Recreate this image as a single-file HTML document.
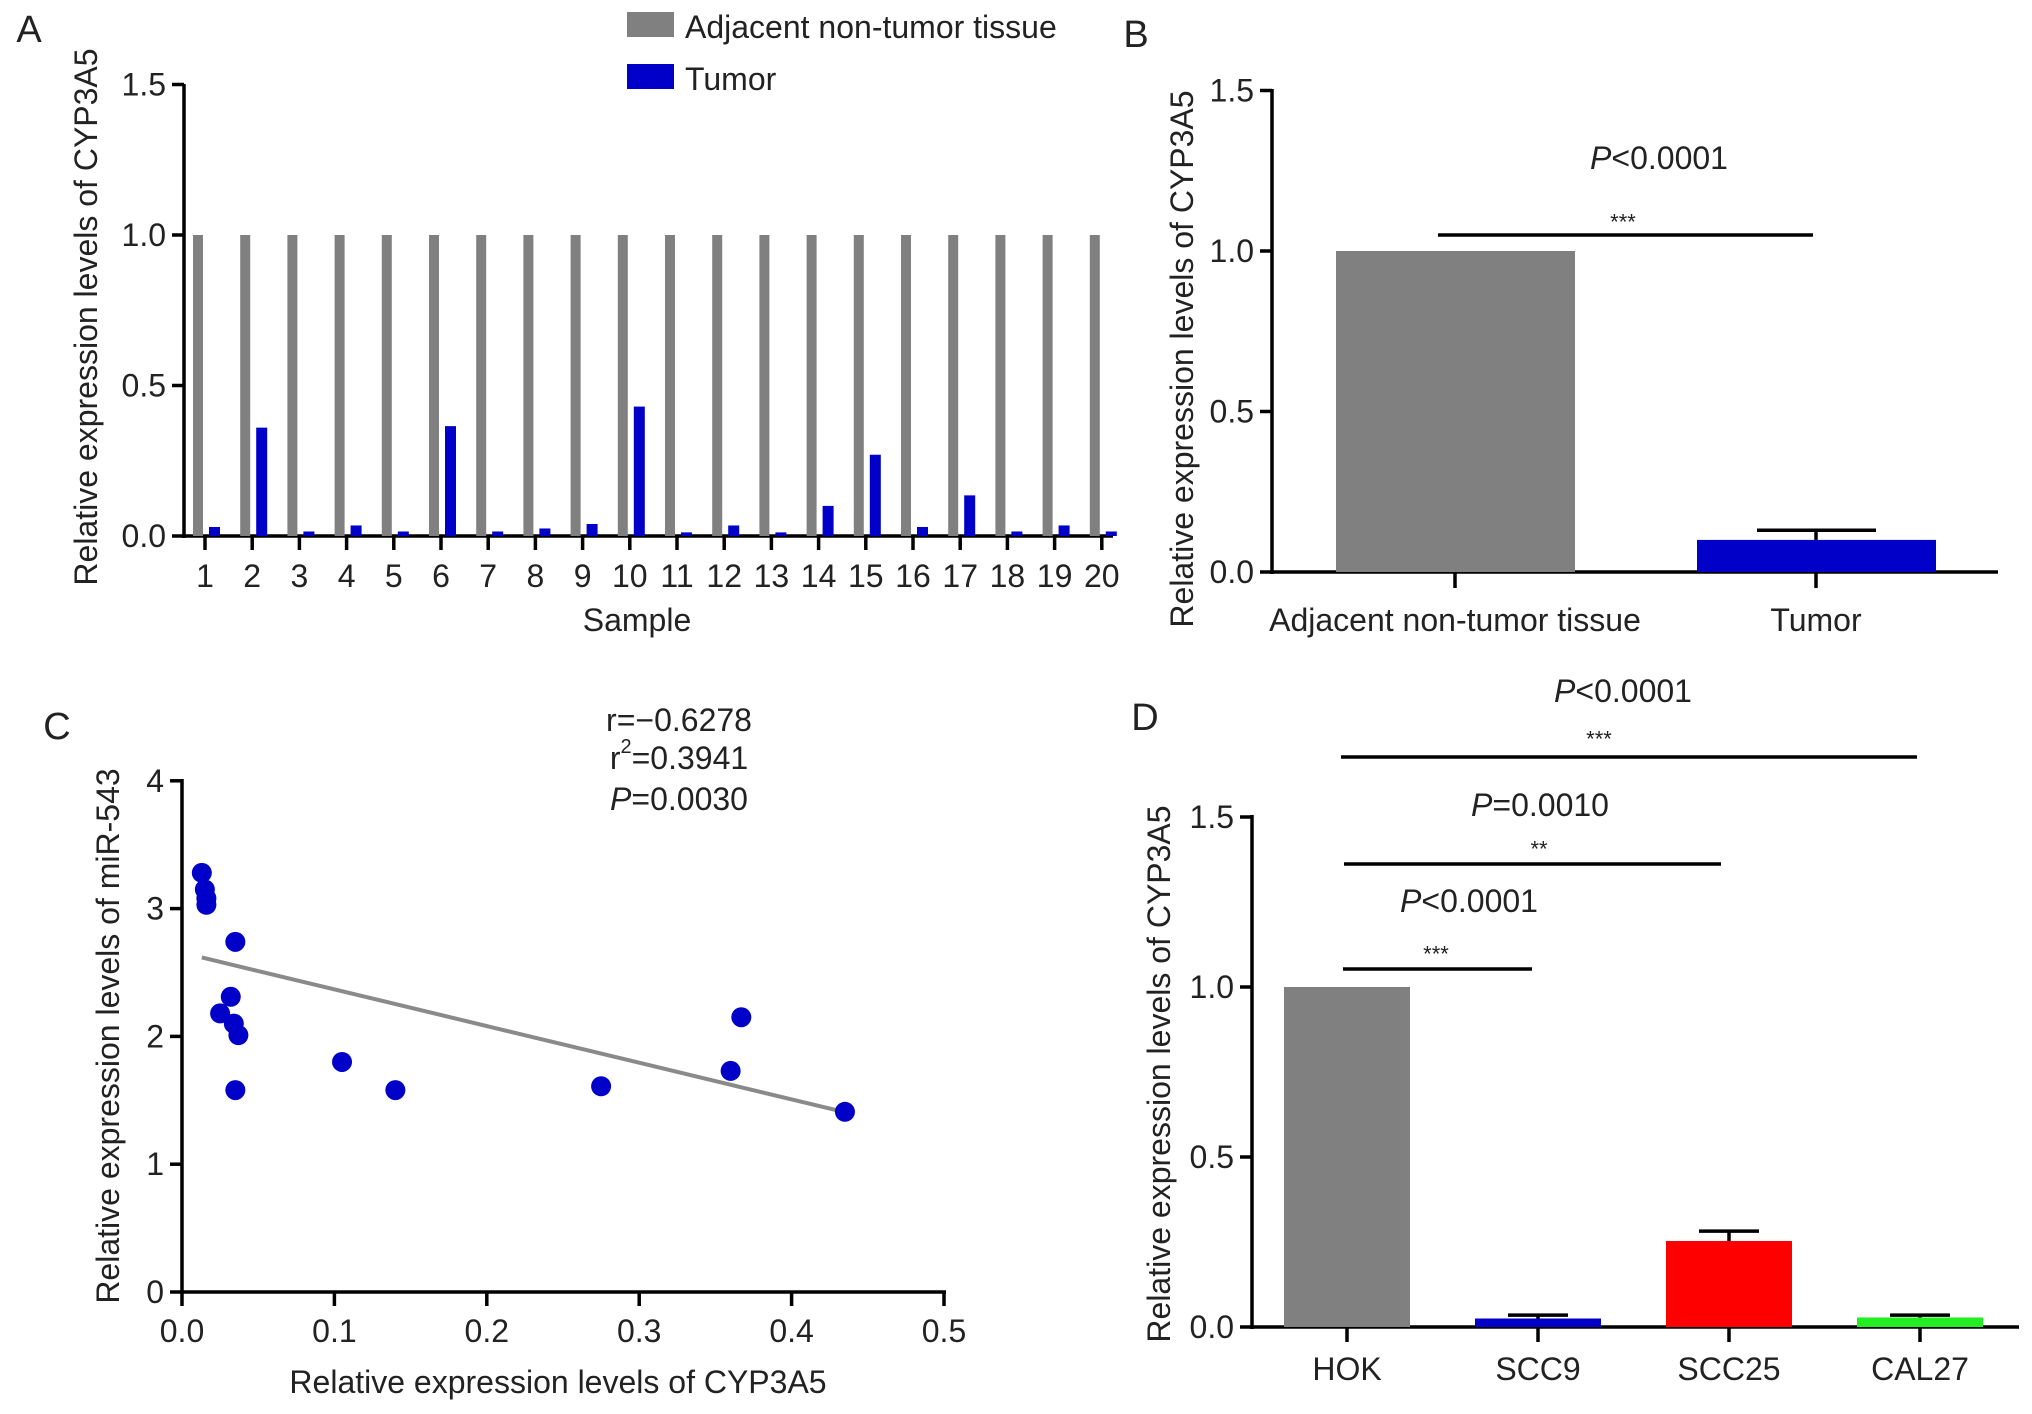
<!DOCTYPE html>
<html><head><meta charset="utf-8"><style>
body{margin:0;background:#fff}
svg{display:block;font-family:"Liberation Sans",Arial,sans-serif}
</style></head><body>
<svg id="fig" width="2032" height="1414" viewBox="0 0 2032 1414"></svg>
<script>
// Panel A data
const samples = ["1","2","3","4","5","6","7","8","9","10","11","12","13","14","15","16","17","18","19","20"];
const adjValues = [1,1,1,1,1,1,1,1,1,1,1,1,1,1,1,1,1,1,1,1];
const tumorValues = [0.03,0.36,0.015,0.035,0.015,0.365,0.015,0.025,0.04,0.43,0.012,0.035,0.012,0.1,0.27,0.03,0.135,0.015,0.035,0.015];
const ticksA = [0,0.5,1.0,1.5];
// Panel B data
const groupsB = ["Adjacent non-tumor tissue","Tumor"];
const meansB = [1.0,0.1];
const errB = [0,0.13];
// Panel C data
const scatterX = [0.013,0.015,0.016,0.016,0.035,0.032,0.025,0.034,0.037,0.035,0.105,0.14,0.275,0.36,0.367,0.435];
const scatterY = [3.28,3.15,3.08,3.03,2.74,2.31,2.18,2.1,2.01,1.58,1.8,1.58,1.61,1.73,2.15,1.41];
const fitIntercept = 2.655, fitSlope = -2.87;
const fitRange = [0.013,0.435];
const xTicksC = [0,0.1,0.2,0.3,0.4,0.5];
const yTicksC = [0,1,2,3,4];
// Panel D data
const groupsD = ["HOK","SCC9","SCC25","CAL27"];
const meansD = [1.0,0.025,0.253,0.028];
const errD = [0,0.035,0.282,0.035];
const colorsD = ["#808080","#0000c8","#ff0000","#22ee22"];

const FS = 32;
const svg = document.getElementById('fig');
const NS = "http://www.w3.org/2000/svg";
function mk(tag, attrs, parent){const e=document.createElementNS(NS,tag);for(const k in attrs)e.setAttribute(k,attrs[k]);(parent||svg).appendChild(e);return e;}
function txt(s,x,y,size,anchor,parent){const t=mk('text',{x:x,y:y,'font-size':size,'text-anchor':anchor||'middle','dominant-baseline':'central',fill:'#222'},parent);t.textContent=s;return t;}
function line(x1,y1,x2,y2,w,parent){return mk('line',{x1:x1,y1:y1,x2:x2,y2:y2,stroke:'#000','stroke-width':w||3.5},parent);}
function fmt(v,d){return v.toFixed(d);}

// ---------- Panel A ----------
const gA = mk('g',{});


const yA = v => 536 - v*301;
const xA = i => 205 + i*47.2;
let t = txt('A',29,30,38,'middle',gA);


line(184,84,184,538,3.5,gA);
line(182,536,1113,536,3.5,gA);
ticksA.forEach(v=>{line(172,yA(v),184,yA(v),3.5,gA);const l=txt(fmt(v,1),166,yA(v),FS,'end',gA);

});
samples.forEach((s,i)=>{
  const x=xA(i);
  const g=mk('rect',{x:x-12,y:yA(adjValues[i]),width:10,height:yA(0)-yA(adjValues[i]),fill:'#808080'},gA);
  
  
  const b=mk('rect',{x:x+4,y:yA(tumorValues[i]),width:11,height:yA(0)-yA(tumorValues[i]),fill:'#0000c8'},gA);
  
  
  line(x,536,x,550,3.5,gA);
  const l=txt(s,x,576,FS,'middle',gA);
  
  
});
t=txt('Sample',637,620,FS,'middle',gA);


t=txt('Relative expression levels of CYP3A5',0,0,FS,'middle',gA);
t.setAttribute('transform','translate(86,317) rotate(-90)');


let r=mk('rect',{x:627,y:12,width:47,height:25,fill:'#808080'},gA);


t=txt('Adjacent non-tumor tissue',685,27,FS,'start',gA);


r=mk('rect',{x:627,y:64,width:47,height:25,fill:'#0000c8'},gA);


t=txt('Tumor',685,79,FS,'start',gA);



// ---------- Panel B ----------
const gB = mk('g',{});


const yB = v => 572 - v*321;
const xB = [1455,1816];
const colB = ['#808080','#0000c8'];
t=txt('B',1136,35,38,'middle',gB);


line(1272,89,1272,574,3.5,gB);
line(1270,572,1998,572,3.5,gB);
ticksA.forEach(v=>{line(1260,yB(v),1272,yB(v),3.5,gB);const l=txt(fmt(v,1),1254,yB(v),FS,'end',gB);

});
groupsB.forEach((s,i)=>{
  const x=xB[i];
  const b=mk('rect',{x:x-119,y:yB(meansB[i]),width:239,height:yB(0)-yB(meansB[i]),fill:colB[i]},gB);
  
  
  if(errB[i]>0){line(x,yB(meansB[i]),x,yB(errB[i]),3.5,gB);line(x-59,yB(errB[i]),x+60,yB(errB[i]),3.5,gB);}
  line(x,572,x,588,3.5,gB);
  const l=txt(s,x,620,FS,'middle',gB);
  
  
});
line(1438,235,1813,235,3.5,gB);
t=txt('***',1623,222,22,'middle',gB);


t=mk('text',{x:1659,y:158,'font-size':FS,'text-anchor':'middle','dominant-baseline':'central',fill:'#222'},gB);
t.innerHTML='<tspan font-style="italic">P</tspan>&lt;0.0001';


t=txt('Relative expression levels of CYP3A5',0,0,FS,'middle',gB);
t.setAttribute('transform','translate(1182,359) rotate(-90)');



// ---------- Panel C ----------
const gC = mk('g',{});


const xC = v => 182 + v*1524;
const yC = v => 1292 - v*127.8;
t=txt('C',57,727,38,'middle',gC);


line(182,779,182,1294,3.5,gC);
line(180,1292,946,1292,3.5,gC);
yTicksC.forEach(v=>{line(170,yC(v),182,yC(v),3.5,gC);const l=txt(String(v),164,yC(v),FS,'end',gC);

});
xTicksC.forEach(v=>{line(xC(v),1292,xC(v),1306,3.5,gC);const l=txt(fmt(v,1),xC(v),1331,FS,'middle',gC);

});
const fl=mk('line',{x1:xC(fitRange[0]),y1:yC(fitIntercept+fitSlope*fitRange[0]),x2:xC(fitRange[1]),y2:yC(fitIntercept+fitSlope*fitRange[1]),stroke:'#8a8a8a','stroke-width':4},gC);


scatterX.forEach((xv,i)=>{
  const c=mk('circle',{cx:xC(xv),cy:yC(scatterY[i]),r:10,fill:'#0000c8'},gC);
  
  
});
t=txt('r=\u22120.6278',679,720,FS,'middle',gC);


t=mk('text',{x:679,y:758,'font-size':FS,'text-anchor':'middle','dominant-baseline':'central',fill:'#222'},gC);
t.innerHTML='r<tspan font-size="20" dy="-11">2</tspan><tspan dy="11">=0.3941</tspan>';


t=mk('text',{x:679,y:799,'font-size':FS,'text-anchor':'middle','dominant-baseline':'central',fill:'#222'},gC);
t.innerHTML='<tspan font-style="italic">P</tspan>=0.0030';


t=txt('Relative expression levels of CYP3A5',558,1382,FS,'middle',gC);


t=txt('Relative expression levels of miR-543',0,0,FS,'middle',gC);
t.setAttribute('transform','translate(108,1036) rotate(-90)');



// ---------- Panel D ----------
const gD = mk('g',{});


const yD = v => 1327 - v*340;
const xD = [1347,1538,1729,1920];
t=txt('D',1145,718,38,'middle',gD);


line(1252,815,1252,1329,3.5,gD);
line(1250,1327,2019,1327,3.5,gD);
ticksA.forEach(v=>{line(1240,yD(v),1252,yD(v),3.5,gD);const l=txt(fmt(v,1),1234,yD(v),FS,'end',gD);

});
groupsD.forEach((s,i)=>{
  const x=xD[i];
  const b=mk('rect',{x:x-63,y:yD(meansD[i]),width:126,height:yD(0)-yD(meansD[i]),fill:colorsD[i]},gD);
  
  
  if(errD[i]>0){line(x,yD(meansD[i]),x,yD(errD[i]),3.5,gD);line(x-30,yD(errD[i]),x+30,yD(errD[i]),3.5,gD);}
  line(x,1327,x,1342,3.5,gD);
  const l=txt(s,x,1369,FS,'middle',gD);
  
  
});
function sig(x1,x2,y,stars,sy,sx,ptext,py,px){
  line(x1,y,x2,y,3.5,gD);
  const s=txt(stars,sx,sy,22,'middle',gD);
  
  
  const p=mk('text',{x:px,y:py,'font-size':FS,'text-anchor':'middle','dominant-baseline':'central',fill:'#222'},gD);
  p.innerHTML='<tspan font-style="italic">P</tspan>'+ptext;
  
  
}
sig(1341,1917,757,'***',739,1599,'&lt;0.0001',691,1623);
sig(1344,1721,864,'**',849,1539,'=0.0010',805,1540);
sig(1343,1532,969,'***',954,1436,'&lt;0.0001',901,1469);
t=txt('Relative expression levels of CYP3A5',0,0,FS,'middle',gD);
t.setAttribute('transform','translate(1159,1074) rotate(-90)');


</script>
</body></html>
